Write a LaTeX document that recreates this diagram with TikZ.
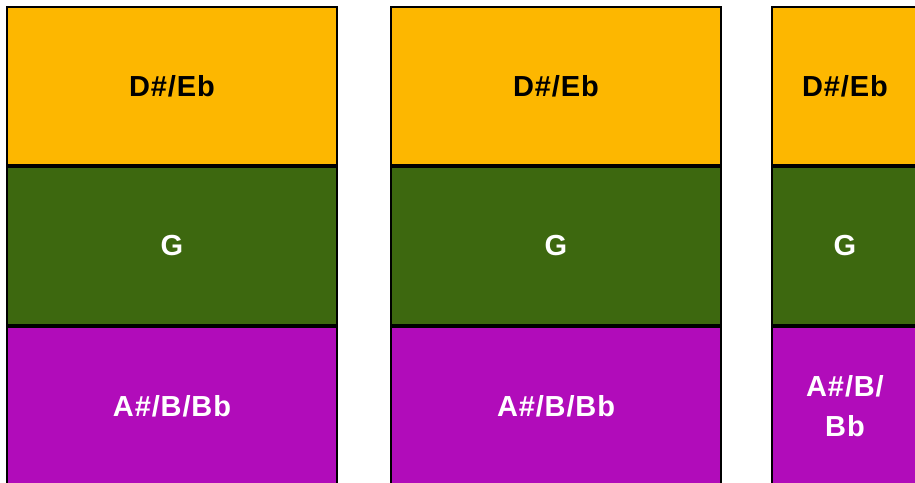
\documentclass[tikz,border=0pt]{standalone}
\usepackage{fontspec}
\newfontfamily\notefont[LetterSpace=3]{Liberation Sans}
\definecolor{ebyellow}{RGB}{253,183,0}
\definecolor{ggreen}{RGB}{61,104,15}
\definecolor{bbpurple}{RGB}{177,12,186}
\tikzset{
  notebox/.style={draw=black, line width=2pt, minimum width=330pt, minimum height=158pt,
    inner sep=0pt, align=center, font=\notefont\bfseries\fontsize{29}{40}\selectfont},
  narrowbox/.style={notebox, minimum width=146pt},
}

\begin{document}
\begin{tikzpicture}[x=1pt, y=-1pt]
    \useasboundingbox (0,0) rectangle (915,482);

    % First column
    \node[notebox, fill=ebyellow, text=black] (eb1) at (172,86) {D\#/Eb};
    \node[notebox, fill=ggreen, text=white] (g1) at (172,246) {G};
    \node[notebox, fill=bbpurple, text=white] (bb1) at (172,406) {A\#/B/Bb};

    % Second column
    \node[notebox, fill=ebyellow, text=black] (eb2) at (556,86) {D\#/Eb};
    \node[notebox, fill=ggreen, text=white] (g2) at (556,246) {G};
    \node[notebox, fill=bbpurple, text=white] (bb2) at (556,406) {A\#/B/Bb};

    % Third column (narrow, cut at the right)
    \node[narrowbox, fill=ebyellow, text=black] (eb3) at (845,86) {D\#/Eb};
    \node[narrowbox, fill=ggreen, text=white] (g3) at (845,246) {G};
    \node[narrowbox, fill=bbpurple, text=white] (bb3) at (845,406) {A\#/B/\\Bb};

\end{tikzpicture}
\end{document}
